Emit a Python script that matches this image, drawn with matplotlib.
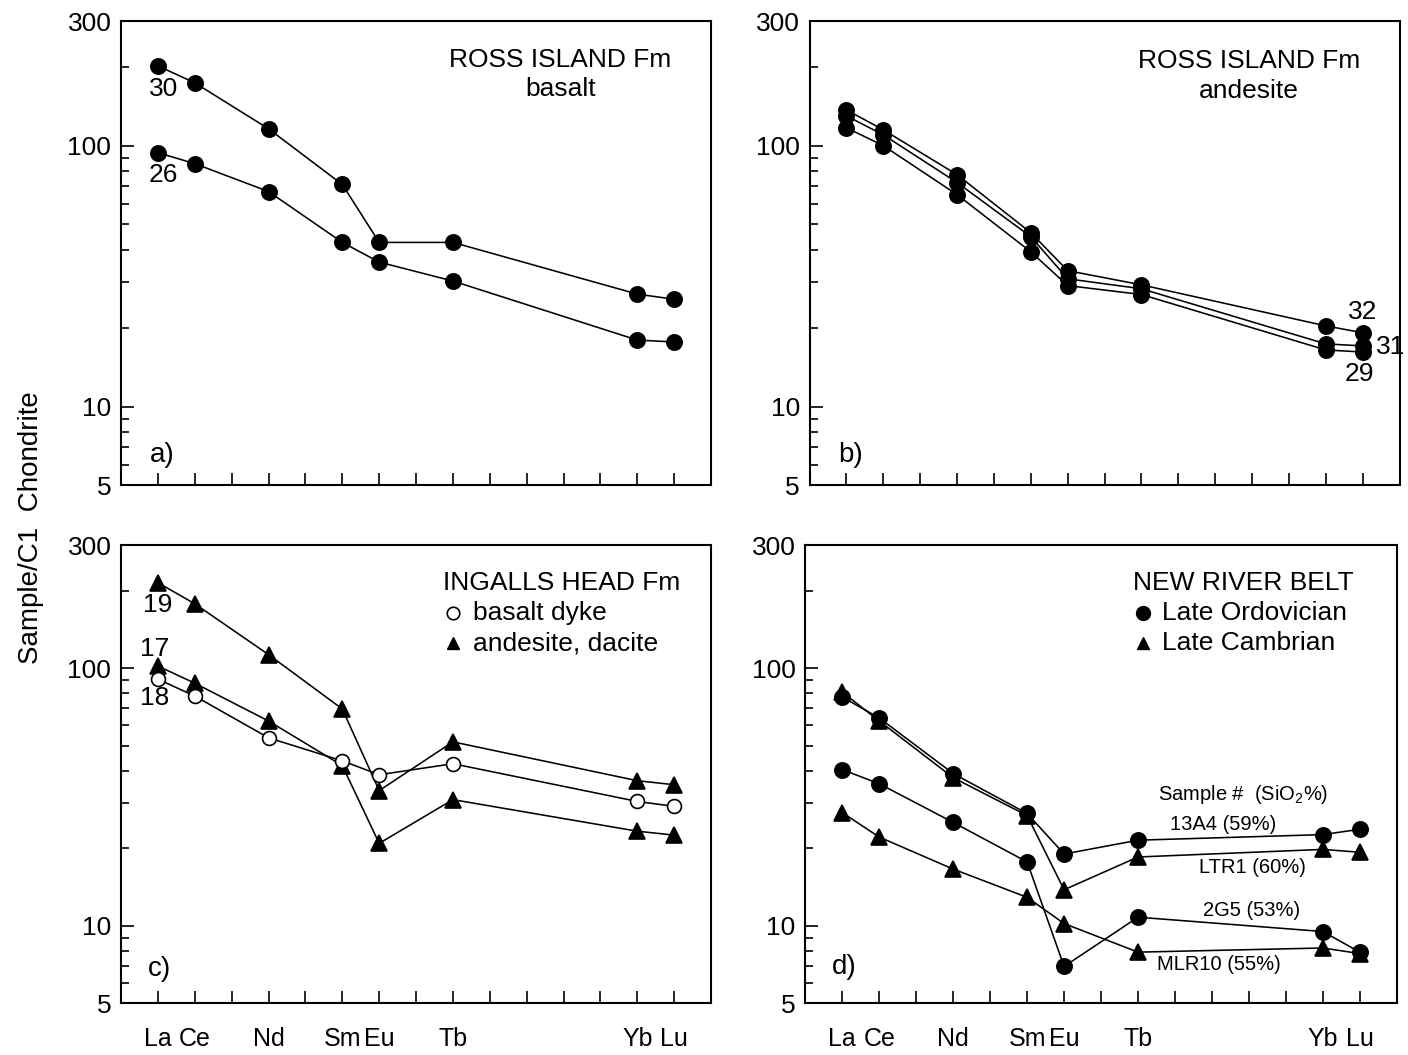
import matplotlib
matplotlib.use('Agg')
import matplotlib.pyplot as plt
from matplotlib import font_manager
from matplotlib.ticker import FixedLocator, NullFormatter

# REE pattern data, chondrite normalised
ree = ['La', 'Ce', 'Nd', 'Sm', 'Eu', 'Tb', 'Yb', 'Lu']
z = [57, 58, 60, 62, 63, 65, 70, 71]

a_30 = [202, 174, 116, 71, 42.6, 42.6, 27.0, 25.8]
a_26 = [94, 85.3, 66.7, 42.6, 35.8, 30.3, 18.0, 17.7]

b_32 = [137, 115, 77.4, 46.4, 33.2, 29.3, 20.4, 19.2]
b_31 = [130, 110, 72.2, 44.8, 30.9, 28.3, 17.4, 17.1]
b_29 = [117, 100, 64.9, 39.2, 29.1, 26.9, 16.5, 16.2]

c_19 = [215, 178, 113, 69.5, 33.5, 51.8, 36.6, 35.3]
c_17 = [102, 87.5, 62.4, 41.9, 20.9, 30.9, 23.3, 22.5]
c_18 = [90.7, 78, 53.7, 43.7, 38.6, 42.6, 30.4, 29.1]

d_13A4 = [77.3, 64.1, 39.0, 27.3, 19.0, 21.5, 22.6, 23.7]
d_LTR1 = [80.8, 62.4, 37.6, 26.8, 13.8, 18.5, 19.8, 19.3]
d_2G5 = [40.4, 35.6, 25.2, 17.7, 6.95, 10.8, 9.5, 7.9]
d_MLR10 = [27.5, 22.1, 16.6, 12.9, 10.2, 7.9, 8.2, 7.8]

installed = {f.name for f in font_manager.fontManager.ttflist}
narrow = 'Liberation Sans Narrow' if 'Liberation Sans Narrow' in installed else 'Liberation Sans'

plt.rcParams['font.family'] = ['Liberation Sans', 'DejaVu Sans']
plt.rcParams['mathtext.fontset'] = 'custom'
plt.rcParams['mathtext.rm'] = narrow
plt.rcParams['mathtext.it'] = narrow
plt.rcParams['mathtext.default'] = 'regular'

FS = 19
LW = 1.15


def setup_axes(ax, tick_labels):
    ax.set_yscale('log')
    ax.set_ylim(5, 300)
    ax.set_xlim(56, 72)
    ax.set_xticks(range(57, 72))
    if tick_labels:
        ax.set_xticklabels([ree[z.index(i)] if i in z else '' for i in range(57, 72)], fontsize=18)
    else:
        ax.set_xticklabels([])
    ax.yaxis.set_major_locator(FixedLocator([5, 10, 100, 300]))
    ax.set_yticklabels(['5', '10', '100', '300'], fontsize=FS)
    ax.yaxis.set_minor_locator(FixedLocator([6, 7, 8, 9, 20, 30, 40, 50, 60, 70, 80, 90, 200]))
    ax.yaxis.set_minor_formatter(NullFormatter())
    ax.tick_params(axis='x', which='both', direction='in', length=9, width=1.2, pad=17, top=False)
    ax.tick_params(axis='y', which='major', direction='in', length=9.5, width=1.2, pad=7, right=False)
    ax.tick_params(axis='y', which='minor', direction='in', length=6, width=1.2, right=False)
    for s in ax.spines.values():
        s.set_linewidth(1.5)


def series(ax, y, marker, filled=True):
    ms = 11 if filled else 10
    ax.plot(z, y, color='black', lw=LW, marker=marker, ms=ms,
            mfc='black' if filled else 'white', mec='black', mew=1.2, clip_on=False)


fig = plt.figure(figsize=(14.08, 10.55), dpi=100)
ax_a = fig.add_axes([0.086, 0.540, 0.419, 0.440])
ax_b = fig.add_axes([0.575, 0.540, 0.419, 0.440])
ax_c = fig.add_axes([0.086, 0.049, 0.419, 0.434])
ax_d = fig.add_axes([0.572, 0.049, 0.420, 0.434])

# a) basalt
setup_axes(ax_a, False)
series(ax_a, a_30, 'o')
series(ax_a, a_26, 'o')
ax_a.text(57.15, 165, '30', fontsize=FS, ha='center', va='center')
ax_a.text(57.15, 77, '26', fontsize=FS, ha='center', va='center')
ax_a.text(0.745, 0.916, 'ROSS ISLAND Fm', transform=ax_a.transAxes, fontsize=FS, ha='center', va='center')
ax_a.text(0.745, 0.853, 'basalt', transform=ax_a.transAxes, fontsize=FS, ha='center', va='center')
ax_a.text(0.07, 0.065, 'a)', transform=ax_a.transAxes, fontsize=FS + 1, ha='center', va='center')

# b) andesite
setup_axes(ax_b, False)
series(ax_b, b_32, 'o')
series(ax_b, b_31, 'o')
series(ax_b, b_29, 'o')
ax_b.text(71.0, 23.1, '32', fontsize=FS, ha='center', va='center')
ax_b.text(71.75, 17.0, '31', fontsize=FS, ha='center', va='center')
ax_b.text(70.9, 13.3, '29', fontsize=FS, ha='center', va='center')
ax_b.text(0.745, 0.914, 'ROSS ISLAND Fm', transform=ax_b.transAxes, fontsize=FS, ha='center', va='center')
ax_b.text(0.745, 0.849, 'andesite', transform=ax_b.transAxes, fontsize=FS, ha='center', va='center')
ax_b.text(0.07, 0.065, 'b)', transform=ax_b.transAxes, fontsize=FS + 1, ha='center', va='center')

# c) Ingalls Head
setup_axes(ax_c, True)
series(ax_c, c_19, '^')
series(ax_c, c_17, '^')
series(ax_c, c_18, 'o', filled=False)
ax_c.text(57.0, 176, '19', fontsize=FS, ha='center', va='center')
ax_c.text(56.9, 119, '17', fontsize=FS, ha='center', va='center')
ax_c.text(56.9, 76.6, '18', fontsize=FS, ha='center', va='center')
ax_c.text(0.545, 0.917, 'INGALLS HEAD Fm', transform=ax_c.transAxes, fontsize=FS, ha='left', va='center')
ax_c.plot([0.562], [0.852], transform=ax_c.transAxes, marker='o', ms=9, mfc='white', mec='black', mew=1.2)
ax_c.text(0.596, 0.852, 'basalt dyke', transform=ax_c.transAxes, fontsize=FS, ha='left', va='center')
ax_c.plot([0.562], [0.786], transform=ax_c.transAxes, marker='^', ms=9, color='black')
ax_c.text(0.596, 0.786, 'andesite, dacite', transform=ax_c.transAxes, fontsize=FS, ha='left', va='center')
ax_c.text(0.065, 0.075, 'c)', transform=ax_c.transAxes, fontsize=FS + 1, ha='center', va='center')

# d) New River Belt
setup_axes(ax_d, True)
series(ax_d, d_13A4, 'o')
series(ax_d, d_LTR1, '^')
series(ax_d, d_2G5, 'o')
series(ax_d, d_MLR10, '^')
ax_d.text(0.554, 0.917, 'NEW RIVER BELT', transform=ax_d.transAxes, fontsize=FS, ha='left', va='center')
ax_d.plot([0.571], [0.852], transform=ax_d.transAxes, marker='o', ms=10, color='black')
ax_d.text(0.603, 0.852, 'Late Ordovician', transform=ax_d.transAxes, fontsize=FS, ha='left', va='center')
ax_d.plot([0.571], [0.786], transform=ax_d.transAxes, marker='^', ms=9, color='black')
ax_d.text(0.603, 0.786, 'Late Cambrian', transform=ax_d.transAxes, fontsize=FS, ha='left', va='center')
ax_d.text(67.84, 32.3, 'Sample #  (SiO$_2$%)', fontsize=14.5, family=narrow, ha='center', va='center')
ax_d.text(67.3, 24.8, '13A4 (59%)', fontsize=14.5, family=narrow, ha='center', va='center')
ax_d.text(68.1, 16.9, 'LTR1 (60%)', fontsize=14.5, family=narrow, ha='center', va='center')
ax_d.text(68.06, 11.5, '2G5 (53%)', fontsize=14.5, family=narrow, ha='center', va='center')
ax_d.text(67.2, 7.07, 'MLR10 (55%)', fontsize=14.5, family=narrow, ha='center', va='center')
ax_d.text(0.065, 0.08, 'd)', transform=ax_d.transAxes, fontsize=FS + 1, ha='center', va='center')

fig.text(0.022, 0.5, 'Sample/C1  Chondrite', rotation=90, fontsize=FS + 1, ha='center', va='center')

fig.savefig('out.png', dpi=100, facecolor='white')
